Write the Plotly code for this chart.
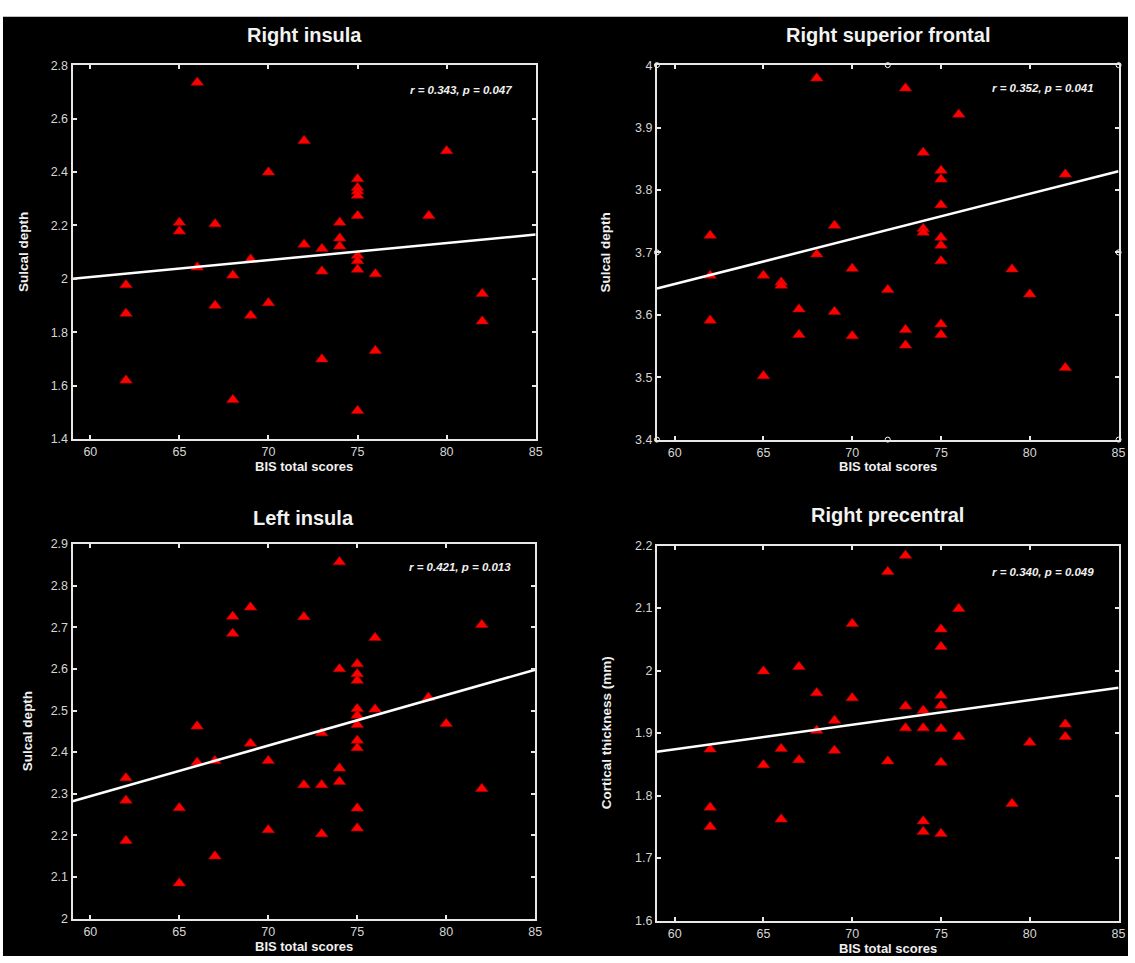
import numpy as np
import plotly.graph_objects as go

# ---------------- data ----------------
titles = ["Right insula", "Right superior frontal", "Left insula", "Right precentral"]
y_titles = ["Sulcal depth", "Sulcal depth", "Sulcal depth", "Cortical thickness (mm)"]
x_title = "BIS total scores"
stats_text = ["r = 0.343, p = 0.047", "r = 0.352, p = 0.041",
              "r = 0.421, p = 0.013", "r = 0.340, p = 0.049"]

# Right insula
ri_x = [62, 62, 62, 65, 65, 66, 66, 67, 67, 68, 68, 69, 69, 70, 70,
        72, 72, 73, 73, 73, 74, 74, 74, 75, 75, 75, 75, 75, 75, 75, 75, 75,
        76, 76, 79, 80, 82, 82]
ri_y = [1.977, 1.870, 1.620, 2.211, 2.178, 2.735, 2.043, 2.205, 1.900, 2.013, 1.547,
        2.073, 1.863, 2.399, 1.910,
        2.517, 2.129, 2.113, 2.028, 1.699, 2.211, 2.152, 2.122,
        2.374, 2.341, 2.328, 2.312, 2.236, 2.087, 2.067, 2.035, 1.506,
        2.018, 1.731, 2.236, 2.479, 1.944, 1.841]

# Right superior frontal
rsf_x = [62, 62, 62, 65, 65, 66, 66, 67, 67, 68, 68, 69, 69, 70, 70,
         72, 73, 73, 73, 74, 74, 74, 75, 75, 75, 75, 75, 75, 75, 75,
         76, 79, 80, 82, 82]
rsf_y = [3.727, 3.663, 3.591, 3.663, 3.502, 3.652, 3.647, 3.609, 3.568, 3.979, 3.697,
         3.743, 3.605, 3.674, 3.566,
         3.640, 3.963, 3.576, 3.551, 3.860, 3.738, 3.732,
         3.831, 3.817, 3.776, 3.724, 3.711, 3.686, 3.585, 3.568,
         3.921, 3.673, 3.633, 3.825, 3.515]

# Left insula
li_x = [62, 62, 62, 65, 65, 66, 66, 67, 67, 68, 68, 69, 69, 70, 70,
        72, 72, 73, 73, 73, 74, 74, 74, 74, 75, 75, 75, 75, 75, 75, 75, 75, 75, 75,
        76, 76, 79, 80, 82, 82]
li_y = [2.338, 2.284, 2.187, 2.266, 2.085, 2.462, 2.375, 2.379, 2.150, 2.726, 2.685,
        2.748, 2.421, 2.379, 2.213,
        2.725, 2.321, 2.446, 2.321, 2.203, 2.857, 2.600, 2.361, 2.329,
        2.612, 2.588, 2.572, 2.504, 2.488, 2.466, 2.428, 2.410, 2.265, 2.217,
        2.675, 2.503, 2.531, 2.468, 2.706, 2.312]

# Right precentral
rp_x = [62, 62, 62, 65, 65, 66, 66, 67, 67, 68, 68, 69, 69, 70, 70,
        72, 72, 73, 73, 73, 74, 74, 74, 74, 75, 75, 75, 75, 75, 75, 75,
        76, 76, 79, 80, 82, 82]
rp_y = [1.874, 1.781, 1.750, 1.999, 1.849, 1.875, 1.762, 2.006, 1.857, 1.964, 1.904,
        1.920, 1.872, 2.075, 1.956,
        2.158, 1.855, 2.184, 1.943, 1.908, 1.936, 1.908, 1.759, 1.742,
        2.066, 2.038, 1.960, 1.944, 1.907, 1.853, 1.739,
        2.099, 1.894, 1.787, 1.885, 1.914, 1.894]

# regression lines as drawn in the figure (intercept, slope)
fit_intercept = [1.6233, 3.2154, 1.5649, 1.6374]
fit_slope = [0.006385, 0.007231, 0.012154, 0.003942]

x_range = [59, 85]
x_tickvals = [60, 65, 70, 75, 80, 85]
x_ticktext = ["60", "65", "70", "75", "80", "85"]

y_ranges = [[1.4, 2.8], [3.4, 4.0], [2.0, 2.9], [1.6, 2.2]]
y_tickvals = [
    [1.4, 1.6, 1.8, 2.0, 2.2, 2.4, 2.6, 2.8],
    [3.4, 3.5, 3.6, 3.7, 3.8, 3.9, 4.0],
    [2.0, 2.1, 2.2, 2.3, 2.4, 2.5, 2.6, 2.7, 2.8, 2.9],
    [1.6, 1.7, 1.8, 1.9, 2.0, 2.1, 2.2],
]
y_ticktext = [
    ["1.4", "1.6", "1.8", "2", "2.2", "2.4", "2.6", "2.8"],
    ["3.4", "3.5", "3.6", "3.7", "3.8", "3.9", "4"],
    ["2", "2.1", "2.2", "2.3", "2.4", "2.5", "2.6", "2.7", "2.8", "2.9"],
    ["1.6", "1.7", "1.8", "1.9", "2", "2.1", "2.2"],
]

datasets = [(ri_x, ri_y), (rsf_x, rsf_y), (li_x, li_y), (rp_x, rp_y)]

# ---------------- layout geometry ----------------
W, H = 1135, 963
# pixel boxes of the four plot areas: (left, right, top, bottom)
boxes = [(73, 539, 59, 438.5), (661, 1125.5, 59, 439),
         (73, 538.5, 545, 925), (661, 1125.5, 546.5, 927)]
title_y_px = [28, 28, 519, 516]
xlabel_y_px = [466, 466, 953, 955]
ylabel_x_px = [23, 609, 27, 610]
stats_pos = [(0.953, 0.934), (0.952, 0.939), (0.953, 0.939), (0.952, 0.930)]

FONT = "Liberation Sans, Arial, sans-serif"
AXC = "#e8e8e8"
TICKC = "#d6d6d6"

fig = go.Figure()
annotations = []

for i, ((xs, ys), (l, r, t, b)) in enumerate(zip(datasets, boxes)):
    k = "" if i == 0 else str(i + 1)
    xa, ya = "x" + k, "y" + k
    # scatter
    fig.add_trace(go.Scatter(
        x=xs, y=ys, mode="markers", xaxis=xa, yaxis=ya,
        marker=dict(symbol="triangle-up", size=11, color="#ff0000",
                    line=dict(width=0.6, color="#b00000")),
        showlegend=False, hoverinfo="x+y"))
    # regression line
    lx = np.array(x_range, float)
    fig.add_trace(go.Scatter(
        x=lx, y=fit_intercept[i] + fit_slope[i] * lx, mode="lines", xaxis=xa, yaxis=ya,
        line=dict(color="white", width=2.5), showlegend=False, hoverinfo="skip"))

    dom_x = [l / W, r / W]
    dom_y = [1 - b / H, 1 - t / H]
    axis_common = dict(showline=True, linecolor=AXC, linewidth=2, mirror="ticks",
                       ticks="inside", ticklen=4, tickwidth=1.5, tickcolor=AXC,
                       showgrid=False, zeroline=False,
                       tickfont=dict(family=FONT, size=12.5, color=TICKC))
    fig.layout["xaxis" + k] = dict(domain=dom_x, range=x_range, anchor=ya,
                                   tickmode="array", tickvals=x_tickvals,
                                   ticktext=x_ticktext, **axis_common)
    fig.layout["yaxis" + k] = dict(domain=dom_y, range=y_ranges[i], anchor=xa,
                                   tickmode="array", tickvals=y_tickvals[i],
                                   ticktext=y_ticktext[i], **axis_common)

    cx = (l + r) / 2 / W
    annotations.append(dict(text="<b>%s</b>" % titles[i], x=cx, y=1 - title_y_px[i] / H,
                            xref="paper", yref="paper", showarrow=False,
                            xanchor="center", yanchor="middle",
                            font=dict(family=FONT, size=20, color="#f2f2f2")))
    annotations.append(dict(text="<b>%s</b>" % x_title, x=cx, y=1 - xlabel_y_px[i] / H,
                            xref="paper", yref="paper", showarrow=False,
                            xanchor="center", yanchor="middle",
                            font=dict(family=FONT, size=13, color="#f0f0f0")))
    annotations.append(dict(text="<b>%s</b>" % y_titles[i], x=ylabel_x_px[i] / W,
                            y=1 - (t + b) / 2 / H, xref="paper", yref="paper",
                            showarrow=False, textangle=-90,
                            xanchor="center", yanchor="middle",
                            font=dict(family=FONT, size=13.5, color="#f0f0f0")))
    sx, sy = stats_pos[i]
    annotations.append(dict(text="<b><i>%s</i></b>" % stats_text[i], x=sx, y=sy,
                            xref=xa + " domain", yref=ya + " domain", showarrow=False,
                            xanchor="right", yanchor="middle",
                            font=dict(family=FONT, size=11.5, color="#f0f0f0")))

# selection handles on the "Right superior frontal" axes (MATLAB edit-mode artefact)
hx0, hx1 = x_range
hy0, hy1 = y_ranges[1]
hxm, hym = (hx0 + hx1) / 2, (hy0 + hy1) / 2
fig.add_trace(go.Scatter(
    x=[hx0, hxm, hx1, hx0, hx1, hx0, hxm, hx1],
    y=[hy1, hy1, hy1, hym, hym, hy0, hy0, hy0],
    mode="markers", xaxis="x2", yaxis="y2", cliponaxis=False,
    marker=dict(symbol="circle", size=5, color="black",
                line=dict(color="white", width=1)),
    showlegend=False, hoverinfo="skip"))

fig.update_layout(
    width=W, height=H,
    margin=dict(l=0, r=0, t=0, b=0),
    paper_bgcolor="white",
    plot_bgcolor="black",
    annotations=annotations,
    shapes=[dict(type="rect", xref="paper", yref="paper", layer="below",
                 x0=3 / W, x1=1, y0=0, y1=1 - 10 / H,
                 fillcolor="black", line=dict(width=0))],
    font=dict(family=FONT),
)

fig.write_html("out.html",
               config={"displayModeBar": False},
               post_script="document.body.style.margin='0';"
                           "document.body.style.overflow='hidden';")
